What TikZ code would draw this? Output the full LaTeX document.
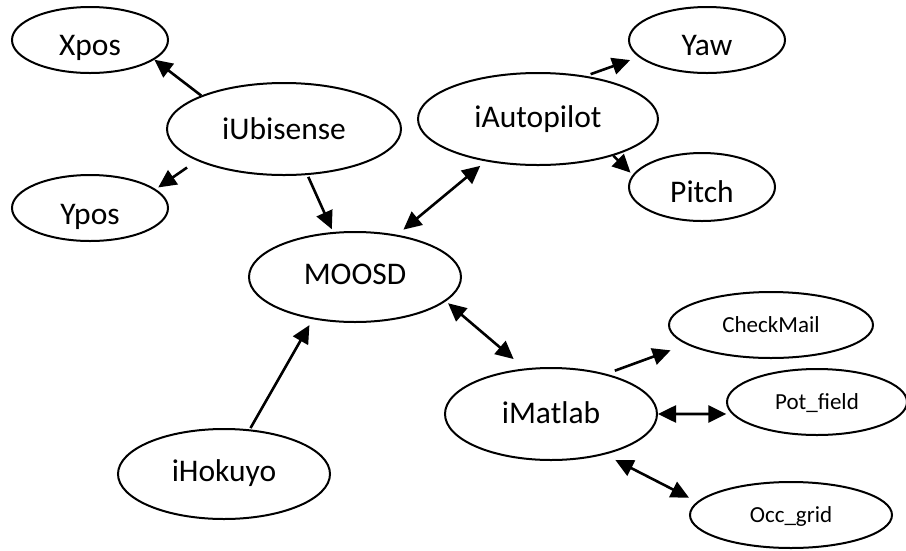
\documentclass[tikz,border=0pt]{standalone}
\usepackage{fontspec}
\setmainfont{Carlito}
\usetikzlibrary{arrows.meta,shapes.geometric}
\newcommand{\lowertext}[2]{\raisebox{-#1pt}{#2}}
\begin{document}
\begin{tikzpicture}[x=1pt,y=-1pt,
  oval/.style={ellipse, draw, line width=2pt, inner sep=0pt,
    text height=20pt, text depth=0pt, font=\fontsize{31.5}{36}\selectfont},
  smalltext/.style={text height=15pt, font=\fontsize{23}{27}\selectfont},
  link/.style={line width=2.6pt, -{Triangle[length=18pt,width=17pt]}},
  dlink/.style={line width=2.6pt, {Triangle[length=18pt,width=17pt]}-{Triangle[length=18pt,width=17pt]}},
]
\useasboundingbox (0,0) rectangle (906,550);
\node[oval, minimum width=156pt, minimum height=66pt] (X) at (90,40) {\lowertext{5}{Xpos}};
\node[oval, minimum width=156pt, minimum height=66pt] (Y) at (90,208) {\lowertext{6}{Ypos}};
\node[oval, minimum width=234pt, minimum height=92pt] (U) at (284,129) {iUbisense};
\node[oval, minimum width=240pt, minimum height=92pt] (A) at (538,119) {\lowertext{-1.5}{iAutopilot}};
\node[oval, minimum width=156pt, minimum height=66pt] (W) at (707,40) {\lowertext{5}{Yaw}};
\node[oval, minimum width=146pt, minimum height=68pt] (P) at (702,187) {\lowertext{5.5}{Pitch}};
\node[oval, minimum width=212pt, minimum height=90pt] (M) at (355,277) {\lowertext{-3}{MOOSD}};
\node[oval, minimum width=212pt, minimum height=90pt] (H) at (224,474) {\lowertext{-3}{iHokuyo}};
\node[oval, minimum width=212pt, minimum height=92pt] (L) at (551,414) {\lowertext{-1}{iMatlab}};
\node[oval, smalltext, minimum width=204pt, minimum height=66pt] (C) at (771,325) {CheckMail};
\node[oval, smalltext, minimum width=180pt, minimum height=66pt] (F) at (817,402) {Pot\_field};
\node[oval, smalltext, minimum width=202pt, minimum height=66pt] (G) at (791,515) {Occ\_grid};

\draw[link] (U.158.7) -- (X.-17);
\draw[link, shorten <=12pt, shorten >=3pt] (U.-160.3) -- (Y.16.6);
\draw[link, shorten <=2pt, shorten >=3pt] (U.-63.9) -- (M.116.1);
\draw[link, shorten <=5pt, shorten >=9pt] (A.42) -- (W.-166.8);
\draw[link, shorten >=3pt] (A.-26.2) -- (P.170.5);
\draw[dlink, shorten <=8pt, shorten >=7pt] (M.45) -- (A.-141.6);
\draw[link, shorten <=1.5pt, shorten >=6.7pt] (H.60) -- (M.-135.6);
\draw[dlink, shorten <=3pt, shorten >=14.5pt] (M.-15.2) -- (L.120.8);
\draw[link, shorten <=9pt, shorten >=17pt] (L.36.4) -- (C.-167.7);
\draw[dlink, shorten >=5.5pt] (L.0) -- (F.-172.4);
\draw[dlink, shorten <=11.7pt, shorten >=9pt] (L.-37.2) -- (G.172.2);
\end{tikzpicture}
\end{document}
